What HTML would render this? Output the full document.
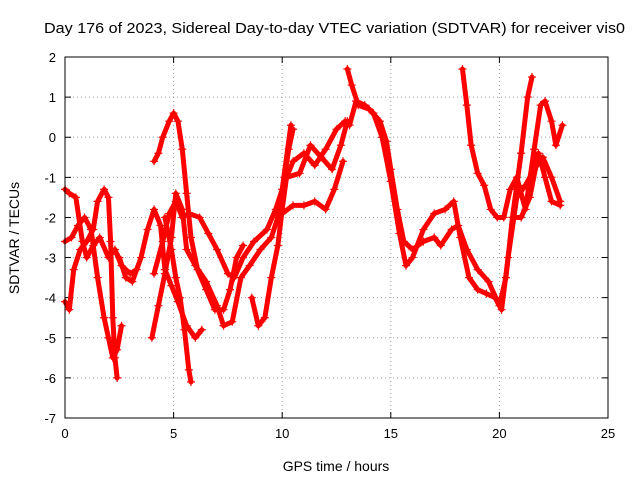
<!DOCTYPE html>
<html><head><meta charset="utf-8"><style>
html,body{margin:0;padding:0;background:#fff;}
svg{display:block;font-family:"Liberation Sans",sans-serif;}
</style></head><body>
<svg id="chart" width="640" height="480" viewBox="0 0 640 480">
<text x="44" y="33" font-size="15" textLength="581" lengthAdjust="spacingAndGlyphs" fill="#000">Day 176 of 2023, Sidereal Day-to-day VTEC variation (SDTVAR) for receiver vis0</text>
<text x="336" y="471" font-size="14" text-anchor="middle">GPS time / hours</text>
<text x="19" y="238" font-size="14" text-anchor="middle" transform="rotate(-90 19 238)">SDTVAR / TECUs</text>
<g id="grid"></g>
<g id="marks"></g>
<rect x="65" y="57" width="543" height="361" fill="none" stroke="#000" stroke-width="1"/>
</svg>
<script>
const xTicks=[0,5,10,15,20,25];
const yTicks=[2,1,0,-1,-2,-3,-4,-5,-6,-7];
const traceTimes=[
[0,0.2,0.5,0.8,1.0,1.3,1.6,2.0,2.3,2.6,3.0,3.3],
[0,0.3,0.6,0.9,1.2,1.5,1.8,2.0,2.2,2.4,2.6],
[0,0.2,0.4,0.7,1.0,1.3,1.5,1.8,2.0,2.1,2.2,2.3,2.4],
[2.5,2.8,3.1,3.5,3.8,4.1,4.4,4.6,4.9,5.2,5.6,6.0,6.3],
[4.0,4.3,4.6,4.9,5.1,5.4,5.6,6.0,6.5,7.0,7.3,7.7,8.1,8.5,9.0,9.5,9.8,10.1,10.3,10.5],
[4.1,4.5,4.8,5.1,5.4,5.7,6.2,6.6,7.0,7.5,7.8,8.2,8.7,9.3,9.7,10.0,10.4],
[4.1,4.3,4.5,4.8,5.0,5.2,5.4,5.6,5.8,6.1,6.5,6.9,7.3,7.6,7.9,8.2],
[4.6,4.9,5.1,5.3,5.5,5.7,5.8],
[8.6,8.9,9.2,9.5,9.8,10.0,10.2,10.5,11.0,11.5,12.0,12.5,12.9],
[10.0,10.5,11.0,11.5,12.0,12.4,12.8],
[10.2,10.8,11.3,11.8,12.3,12.7,13.0],
[13.0,13.2,13.5,14.0,14.5,14.8,15.0,15.3,15.6,16.0,16.5,17.0,17.3,17.8,18.1,18.5,19.0,19.5,20.0,20.3,20.6,21.0,21.3,21.5],
[13.1,13.4,13.8,14.2,14.6,15.0,15.4,15.7,16.0,16.5,17.0,17.5,17.9,18.2,18.6,19.0,19.4,19.8,20.1,20.4,20.8,21.2,21.6,22.0,22.4,22.8],
[18.3,18.5,18.7,19.0,19.3,19.6,19.9,20.2,20.5,20.8,21.2,21.6,21.9,22.1,22.4,22.6,22.9],
[20.6,21.0,21.4,21.8,22.1,22.4,22.8]
];
const traceValues=[
[-1.3,-1.4,-1.5,-2.6,-3.0,-2.7,-2.5,-3.0,-2.8,-3.2,-3.4,-3.3],
[-2.6,-2.5,-2.2,-2.0,-2.3,-3.5,-4.5,-5.0,-5.5,-5.3,-4.7],
[-4.1,-4.3,-3.3,-2.8,-2.6,-2.3,-1.6,-1.3,-1.5,-2.6,-4.5,-5.5,-6.0],
[-3.0,-3.5,-3.6,-3.0,-2.3,-1.8,-2.2,-3.3,-3.7,-4.1,-4.7,-5.0,-4.8],
[-5.0,-4.2,-3.4,-2.5,-1.4,-1.8,-2.8,-3.2,-3.6,-4.2,-4.7,-4.6,-3.5,-3.2,-2.8,-2.5,-2.0,-1.0,-0.3,0.2],
[-3.4,-2.6,-1.9,-1.6,-2.0,-1.9,-2.0,-2.4,-2.8,-3.4,-3.5,-3.0,-2.6,-2.3,-1.8,-1.3,0.3],
[-0.6,-0.4,0.0,0.4,0.6,0.4,-0.3,-1.4,-2.5,-3.3,-3.8,-4.3,-4.3,-3.8,-3.0,-2.7],
[-2.0,-2.8,-3.5,-4.0,-4.8,-5.8,-6.1],
[-4.0,-4.7,-4.5,-3.5,-2.7,-1.8,-1.0,-0.6,-0.4,-0.7,-0.3,0.2,0.4],
[-1.9,-1.7,-1.7,-1.6,-1.8,-1.3,-0.6],
[-1.0,-0.9,-0.2,-0.5,-0.8,-0.2,0.4],
[1.7,1.3,0.8,0.7,0.4,-0.1,-0.8,-1.8,-2.6,-2.8,-2.6,-2.5,-2.7,-2.3,-2.2,-2.8,-3.3,-3.6,-4.2,-3.5,-2.0,-0.4,1.0,1.5],
[0.3,0.9,0.8,0.6,0.0,-1.1,-2.4,-3.2,-3.0,-2.3,-1.9,-1.8,-1.6,-2.5,-3.5,-3.8,-3.9,-4.0,-4.3,-3.0,-1.5,-1.2,-0.8,-0.5,-1.0,-1.6],
[1.7,0.8,-0.2,-0.9,-1.2,-1.8,-2.0,-2.0,-1.3,-1.0,-1.8,-0.3,0.8,0.9,0.4,-0.2,0.3],
[-2.0,-2.0,-1.5,-0.4,-1.0,-1.6,-1.7]
];
const NS="http://www.w3.org/2000/svg";
const X0=65,X1=608,Y0=57,Y1=418,XMIN=0,XMAX=25,YMIN=-7,YMAX=2;
function xs(t){return X0+(t-XMIN)/(XMAX-XMIN)*(X1-X0);}
function ys(v){return Y1-(v-YMIN)/(YMAX-YMIN)*(Y1-Y0);}
const grid=document.getElementById('grid');
const marks=document.getElementById('marks');
function mk(tag,attrs,parent){const e=document.createElementNS(NS,tag);for(const k in attrs)e.setAttribute(k,attrs[k]);parent.appendChild(e);return e;}
xTicks.forEach(t=>{
  const x=xs(t);
  if(t>XMIN&&t<XMAX){const g=mk('line',{x1:x,y1:Y0,x2:x,y2:Y1,stroke:'#a0a0a0','stroke-dasharray':'1,3'},grid);
  
  }
  const tk=mk('path',{d:`M${x},${Y1}v-6M${x},${Y0}v6`,stroke:'#000'},grid);
  
  
  const lb=mk('text',{x:x,y:Y1+20,'font-size':13,'text-anchor':'middle'},grid);lb.textContent=t;
  
  
});
yTicks.forEach(v=>{
  const y=ys(v);
  if(v>YMIN&&v<YMAX){const g=mk('line',{x1:X0,y1:y,x2:X1,y2:y,stroke:'#a0a0a0','stroke-dasharray':'1,3'},grid);
  
  }
  const tk=mk('path',{d:`M${X0},${y}h6M${X1},${y}h-6`,stroke:'#000'},grid);
  
  
  const lb=mk('text',{x:X0-9,y:y+5,'font-size':13,'text-anchor':'end'},grid);lb.textContent=v;
  
  
});
traceTimes.forEach((ts,i)=>{
  const vs=traceValues[i];
  const pts=ts.map((t,j)=>xs(t)+','+ys(vs[j])).join(' ');
  const pl=mk('polyline',{points:pts,fill:'none',stroke:'#ff0000','stroke-width':5,'stroke-linejoin':'round','stroke-linecap':'round'},marks);
  
  
  ts.forEach((t,j)=>{
    const x=xs(t),y=ys(vs[j]);
    const p=mk('path',{d:`M${x-4},${y}h8M${x},${y-4}v8`,stroke:'#ff0000','stroke-width':1.2},marks);
    
    
  });
});
</script>
</body></html>
